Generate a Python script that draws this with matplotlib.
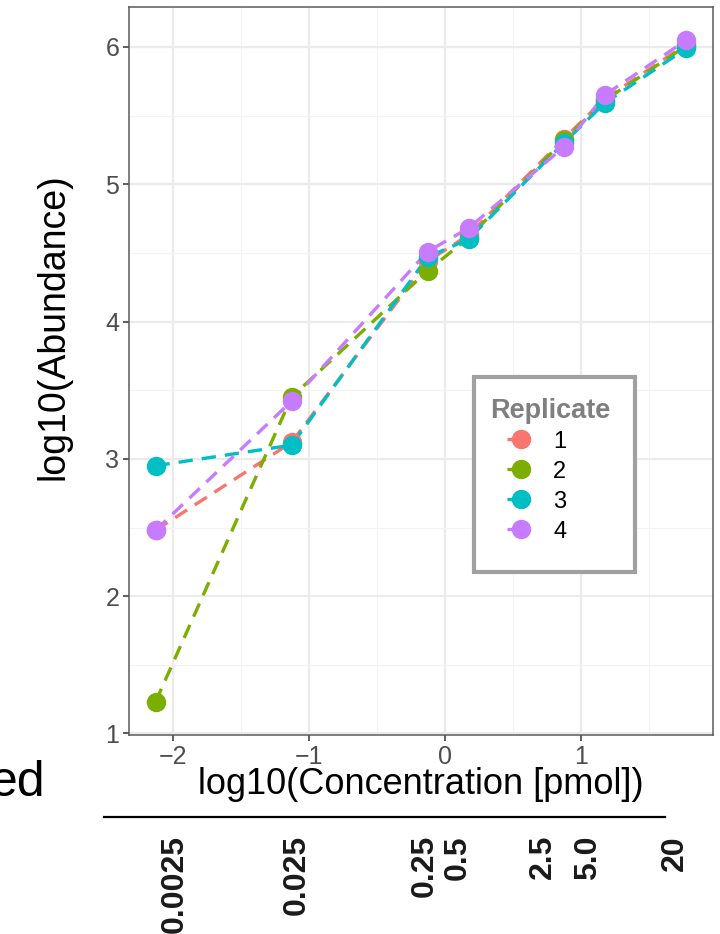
import numpy as np
import matplotlib.pyplot as plt
from matplotlib.lines import Line2D
from matplotlib.patches import Rectangle

plt.rcParams['font.family'] = ['Liberation Sans', 'DejaVu Sans']

# amount loaded per dilution step (pmol) and the nominal labels printed below
conc_pmol = [0.0075, 0.075, 0.75, 1.5, 7.5, 15, 60]
conc_labels = ["0.0025", "0.025", "0.25", "0.5", "2.5", "5.0", "20"]

replicates = ["1", "2", "3", "4"]
rep1 = [2.48, 3.12, 4.44, 4.63, 5.33, 5.62, 6.02]
rep2 = [1.23, 3.45, 4.37, 4.61, 5.32, 5.61, 6.01]
rep3 = [2.95, 3.10, 4.47, 4.60, 5.30, 5.59, 5.99]
rep4 = [2.48, 3.42, 4.51, 4.68, 5.27, 5.65, 6.05]
colors = ["#F8766D", "#7CAE00", "#00BFC4", "#C77CFF"]

x = np.log10(conc_pmol)
series = [rep1, rep2, rep3, rep4]

W, H = 720, 934
fig = plt.figure(figsize=(W / 100, H / 100), dpi=100)
ax_l, ax_t, ax_w, ax_h = 129, 7, 584, 728
ax = fig.add_axes([ax_l / W, 1 - (ax_t + ax_h) / H, ax_w / W, ax_h / H])


def axfrac(px, py):
    # pixel position (from top-left of the figure) -> axes fraction
    return (px - ax_l) / ax_w, (ax_t + ax_h - py) / ax_h


for vals, c in zip(series, colors):
    ax.plot(x, vals, color=c, lw=2.4, linestyle=(0, (4.3, 2.7)), zorder=2)
for vals, c in zip(series, colors):
    ax.plot(x, vals, 'o', color=c, markersize=14, markeredgewidth=0, zorder=3)

# ggplot-like 5% expansion
xr = x.max() - x.min()
ax.set_xlim(x.min() - 0.05 * xr, x.max() + 0.05 * xr)
allv = np.concatenate(series)
yr = allv.max() - allv.min()
ax.set_ylim(allv.min() - 0.05 * yr, allv.max() + 0.05 * yr)

ax.set_xticks([-2, -1, 0, 1])
ax.set_xticklabels(["\u22122", "\u22121", "0", "1"])
ax.set_yticks([1, 2, 3, 4, 5, 6])
ax.set_xticks([-1.5, -0.5, 0.5, 1.5], minor=True)
ax.set_yticks([1.5, 2.5, 3.5, 4.5, 5.5], minor=True)
ax.grid(which='major', color='#EBEBEB', lw=1.6)
ax.grid(which='minor', color='#F3F3F3', lw=0.8)
ax.set_axisbelow(True)
ax.tick_params(which='major', length=4, width=1.1, color='#333333',
               labelsize=18, labelcolor='#4D4D4D', pad=3)
ax.tick_params(which='minor', length=0)
for s in ax.spines.values():
    s.set_color('#5A5A5A')
    s.set_linewidth(1.1)

ax.set_xlabel("log10(Concentration [pmol])", fontsize=26)
ax.xaxis.set_label_coords(0.5, -0.044)
ax.xaxis.label.set_va('top')
ax.set_ylabel("log10(Abundance)", fontsize=27)
ax.yaxis.set_label_coords(-0.098, 0.561)

# legend box drawn separately so its margins follow ggplot's
bx0, by0 = axfrac(474, 572)
bx1, by1 = axfrac(635, 377)
ax.add_patch(Rectangle((bx0, by0), bx1 - bx0, by1 - by0, transform=ax.transAxes,
                       facecolor='white', edgecolor='#A0A0A0', lw=3, zorder=4))

# key: short dash stub just left of the point, as in ggplot keys
handles = [Line2D([], [], color=c, lw=2.4, linestyle=(18.2, (3.0, 20)),
                  marker='o', markersize=14, markeredgewidth=0)
           for c in colors]
leg = ax.legend(handles, replicates, title="Replicate", loc='upper left',
                bbox_to_anchor=axfrac(474, 381), borderaxespad=0,
                fontsize=17, title_fontsize=19.5, handlelength=2.55,
                handleheight=0.86, handletextpad=0.1, labelspacing=0.30,
                borderpad=0.7, alignment='left', frameon=False)
leg.set_zorder(5)
leg.get_title().set_fontweight('bold')
leg.get_title().set_color('#7F7F7F')

# cropped word from the neighbouring panel
fig.text(46 / W, 1 - 796 / H, "ed", fontsize=36, ha='right', va='baseline')

# nominal concentration strip
fig.add_artist(Line2D([104 / W, 665 / W], [1 - 817 / H, 1 - 817 / H],
                      color='black', lw=1.6))
label_x = [175, 297, 425, 458, 543, 588, 675]
for lx, lab in zip(label_x, conc_labels):
    fig.text(lx / W, 1 - 835 / H, lab, rotation=90, fontsize=23,
             fontweight='bold', ha='center', va='top', color='#1A1A1A')

fig.savefig("out.png", dpi=100)
